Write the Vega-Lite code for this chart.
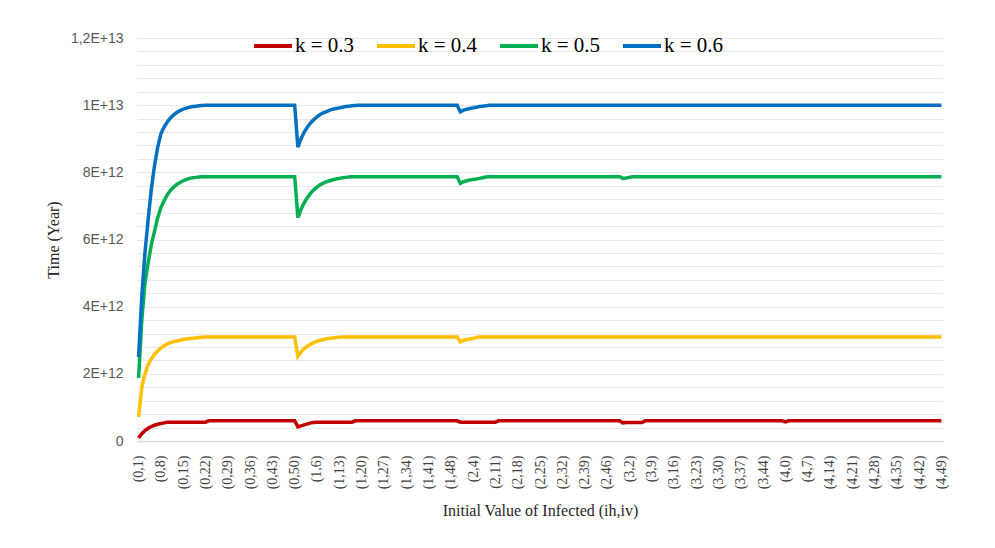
{
"$schema": "https://vega.github.io/schema/vega-lite/v6.json",
"width": 806, "height": 403,
"autosize": "none",
"padding": {"left": 137, "top": 38, "right": 52, "bottom": 107},
"background": "white",
"config": {"view": {"stroke": null}},
"data": {"values": [
{"x":"(0,1)","a":0.09e12,"b":0.72e12,"c":1.88e12,"d":2.5e12},
{"x":"(0,2)","a":0.22e12,"b":1.6e12,"c":3.6e12,"d":4.3e12},
{"x":"(0,3)","a":0.31e12,"b":2.0e12,"c":4.7e12,"d":5.6e12},
{"x":"(0,4)","a":0.38e12,"b":2.27e12,"c":5.3e12,"d":6.6e12},
{"x":"(0,5)","a":0.43e12,"b":2.45e12,"c":5.85e12,"d":7.5e12},
{"x":"(0,6)","a":0.47e12,"b":2.58e12,"c":6.25e12,"d":8.2e12},
{"x":"(0,7)","a":0.5e12,"b":2.68e12,"c":6.65e12,"d":8.75e12},
{"x":"(0,8)","a":0.52e12,"b":2.77e12,"c":6.95e12,"d":9.15e12},
{"x":"(0,9)","a":0.54e12,"b":2.84e12,"c":7.15e12,"d":9.35e12},
{"x":"(0,10)","a":0.56e12,"b":2.89e12,"c":7.33e12,"d":9.5e12},
{"x":"(0,11)","a":0.56e12,"b":2.93e12,"c":7.46e12,"d":9.62e12},
{"x":"(0,12)","a":0.56e12,"b":2.96e12,"c":7.56e12,"d":9.71e12},
{"x":"(0,13)","a":0.56e12,"b":2.98e12,"c":7.64e12,"d":9.78e12},
{"x":"(0,14)","a":0.56e12,"b":3.0e12,"c":7.7e12,"d":9.84e12},
{"x":"(0,15)","a":0.56e12,"b":3.02e12,"c":7.75e12,"d":9.88e12},
{"x":"(0,16)","a":0.56e12,"b":3.04e12,"c":7.79e12,"d":9.91e12},
{"x":"(0,17)","a":0.56e12,"b":3.05e12,"c":7.82e12,"d":9.94e12},
{"x":"(0,18)","a":0.56e12,"b":3.06e12,"c":7.84e12,"d":9.96e12},
{"x":"(0,19)","a":0.56e12,"b":3.07e12,"c":7.85e12,"d":9.97e12},
{"x":"(0,20)","a":0.56e12,"b":3.08e12,"c":7.86e12,"d":9.98e12},
{"x":"(0,21)","a":0.56e12,"b":3.09e12,"c":7.87e12,"d":9.99e12},
{"x":"(0,22)","a":0.56e12,"b":3.1e12,"c":7.87e12,"d":10e12},
{"x":"(0,23)","a":0.6e12,"b":3.1e12,"c":7.87e12,"d":10e12},
{"x":"(0,24)","a":0.6e12,"b":3.1e12,"c":7.87e12,"d":10e12},
{"x":"(0,25)","a":0.6e12,"b":3.1e12,"c":7.87e12,"d":10e12},
{"x":"(0,26)","a":0.6e12,"b":3.1e12,"c":7.87e12,"d":10e12},
{"x":"(0,27)","a":0.6e12,"b":3.1e12,"c":7.87e12,"d":10e12},
{"x":"(0,28)","a":0.6e12,"b":3.1e12,"c":7.87e12,"d":10e12},
{"x":"(0,29)","a":0.6e12,"b":3.1e12,"c":7.87e12,"d":10e12},
{"x":"(0,30)","a":0.6e12,"b":3.1e12,"c":7.87e12,"d":10e12},
{"x":"(0,31)","a":0.6e12,"b":3.1e12,"c":7.87e12,"d":10e12},
{"x":"(0,32)","a":0.6e12,"b":3.1e12,"c":7.87e12,"d":10e12},
{"x":"(0,33)","a":0.6e12,"b":3.1e12,"c":7.87e12,"d":10e12},
{"x":"(0,34)","a":0.6e12,"b":3.1e12,"c":7.87e12,"d":10e12},
{"x":"(0,35)","a":0.6e12,"b":3.1e12,"c":7.87e12,"d":10e12},
{"x":"(0,36)","a":0.6e12,"b":3.1e12,"c":7.87e12,"d":10e12},
{"x":"(0,37)","a":0.6e12,"b":3.1e12,"c":7.87e12,"d":10e12},
{"x":"(0,38)","a":0.6e12,"b":3.1e12,"c":7.87e12,"d":10e12},
{"x":"(0,39)","a":0.6e12,"b":3.1e12,"c":7.87e12,"d":10e12},
{"x":"(0,40)","a":0.6e12,"b":3.1e12,"c":7.87e12,"d":10e12},
{"x":"(0,41)","a":0.6e12,"b":3.1e12,"c":7.87e12,"d":10e12},
{"x":"(0,42)","a":0.6e12,"b":3.1e12,"c":7.87e12,"d":10e12},
{"x":"(0,43)","a":0.6e12,"b":3.1e12,"c":7.87e12,"d":10e12},
{"x":"(0,44)","a":0.6e12,"b":3.1e12,"c":7.87e12,"d":10e12},
{"x":"(0,45)","a":0.6e12,"b":3.1e12,"c":7.87e12,"d":10e12},
{"x":"(0,46)","a":0.6e12,"b":3.1e12,"c":7.87e12,"d":10e12},
{"x":"(0,47)","a":0.6e12,"b":3.1e12,"c":7.87e12,"d":10e12},
{"x":"(0,48)","a":0.6e12,"b":3.1e12,"c":7.87e12,"d":10e12},
{"x":"(0,49)","a":0.6e12,"b":3.1e12,"c":7.87e12,"d":10e12},
{"x":"(0,50)","a":0.6e12,"b":3.1e12,"c":7.87e12,"d":10e12},
{"x":"(1,0)","a":0.42e12,"b":2.52e12,"c":6.65e12,"d":8.75e12},
{"x":"(1,1)","a":0.45e12,"b":2.65e12,"c":6.9e12,"d":9.0e12},
{"x":"(1,2)","a":0.48e12,"b":2.75e12,"c":7.1e12,"d":9.2e12},
{"x":"(1,3)","a":0.51e12,"b":2.82e12,"c":7.25e12,"d":9.35e12},
{"x":"(1,4)","a":0.54e12,"b":2.88e12,"c":7.38e12,"d":9.47e12},
{"x":"(1,5)","a":0.55e12,"b":2.93e12,"c":7.48e12,"d":9.57e12},
{"x":"(1,6)","a":0.56e12,"b":2.97e12,"c":7.56e12,"d":9.65e12},
{"x":"(1,7)","a":0.56e12,"b":3.0e12,"c":7.63e12,"d":9.72e12},
{"x":"(1,8)","a":0.56e12,"b":3.02e12,"c":7.68e12,"d":9.77e12},
{"x":"(1,9)","a":0.56e12,"b":3.04e12,"c":7.72e12,"d":9.81e12},
{"x":"(1,10)","a":0.56e12,"b":3.06e12,"c":7.75e12,"d":9.85e12},
{"x":"(1,11)","a":0.56e12,"b":3.07e12,"c":7.78e12,"d":9.88e12},
{"x":"(1,12)","a":0.56e12,"b":3.08e12,"c":7.8e12,"d":9.9e12},
{"x":"(1,13)","a":0.56e12,"b":3.09e12,"c":7.82e12,"d":9.92e12},
{"x":"(1,14)","a":0.56e12,"b":3.1e12,"c":7.84e12,"d":9.94e12},
{"x":"(1,15)","a":0.56e12,"b":3.1e12,"c":7.85e12,"d":9.96e12},
{"x":"(1,16)","a":0.56e12,"b":3.1e12,"c":7.86e12,"d":9.97e12},
{"x":"(1,17)","a":0.56e12,"b":3.1e12,"c":7.87e12,"d":9.98e12},
{"x":"(1,18)","a":0.6e12,"b":3.1e12,"c":7.87e12,"d":9.99e12},
{"x":"(1,19)","a":0.6e12,"b":3.1e12,"c":7.87e12,"d":10e12},
{"x":"(1,20)","a":0.6e12,"b":3.1e12,"c":7.87e12,"d":10e12},
{"x":"(1,21)","a":0.6e12,"b":3.1e12,"c":7.87e12,"d":10e12},
{"x":"(1,22)","a":0.6e12,"b":3.1e12,"c":7.87e12,"d":10e12},
{"x":"(1,23)","a":0.6e12,"b":3.1e12,"c":7.87e12,"d":10e12},
{"x":"(1,24)","a":0.6e12,"b":3.1e12,"c":7.87e12,"d":10e12},
{"x":"(1,25)","a":0.6e12,"b":3.1e12,"c":7.87e12,"d":10e12},
{"x":"(1,26)","a":0.6e12,"b":3.1e12,"c":7.87e12,"d":10e12},
{"x":"(1,27)","a":0.6e12,"b":3.1e12,"c":7.87e12,"d":10e12},
{"x":"(1,28)","a":0.6e12,"b":3.1e12,"c":7.87e12,"d":10e12},
{"x":"(1,29)","a":0.6e12,"b":3.1e12,"c":7.87e12,"d":10e12},
{"x":"(1,30)","a":0.6e12,"b":3.1e12,"c":7.87e12,"d":10e12},
{"x":"(1,31)","a":0.6e12,"b":3.1e12,"c":7.87e12,"d":10e12},
{"x":"(1,32)","a":0.6e12,"b":3.1e12,"c":7.87e12,"d":10e12},
{"x":"(1,33)","a":0.6e12,"b":3.1e12,"c":7.87e12,"d":10e12},
{"x":"(1,34)","a":0.6e12,"b":3.1e12,"c":7.87e12,"d":10e12},
{"x":"(1,35)","a":0.6e12,"b":3.1e12,"c":7.87e12,"d":10e12},
{"x":"(1,36)","a":0.6e12,"b":3.1e12,"c":7.87e12,"d":10e12},
{"x":"(1,37)","a":0.6e12,"b":3.1e12,"c":7.87e12,"d":10e12},
{"x":"(1,38)","a":0.6e12,"b":3.1e12,"c":7.87e12,"d":10e12},
{"x":"(1,39)","a":0.6e12,"b":3.1e12,"c":7.87e12,"d":10e12},
{"x":"(1,40)","a":0.6e12,"b":3.1e12,"c":7.87e12,"d":10e12},
{"x":"(1,41)","a":0.6e12,"b":3.1e12,"c":7.87e12,"d":10e12},
{"x":"(1,42)","a":0.6e12,"b":3.1e12,"c":7.87e12,"d":10e12},
{"x":"(1,43)","a":0.6e12,"b":3.1e12,"c":7.87e12,"d":10e12},
{"x":"(1,44)","a":0.6e12,"b":3.1e12,"c":7.87e12,"d":10e12},
{"x":"(1,45)","a":0.6e12,"b":3.1e12,"c":7.87e12,"d":10e12},
{"x":"(1,46)","a":0.6e12,"b":3.1e12,"c":7.87e12,"d":10e12},
{"x":"(1,47)","a":0.6e12,"b":3.1e12,"c":7.87e12,"d":10e12},
{"x":"(1,48)","a":0.6e12,"b":3.1e12,"c":7.87e12,"d":10e12},
{"x":"(1,49)","a":0.6e12,"b":3.1e12,"c":7.87e12,"d":10e12},
{"x":"(1,50)","a":0.6e12,"b":3.1e12,"c":7.87e12,"d":10e12},
{"x":"(2,0)","a":0.56e12,"b":2.95e12,"c":7.67e12,"d":9.8e12},
{"x":"(2,1)","a":0.56e12,"b":3.0e12,"c":7.72e12,"d":9.85e12},
{"x":"(2,2)","a":0.56e12,"b":3.02e12,"c":7.75e12,"d":9.88e12},
{"x":"(2,3)","a":0.56e12,"b":3.04e12,"c":7.77e12,"d":9.9e12},
{"x":"(2,4)","a":0.56e12,"b":3.05e12,"c":7.79e12,"d":9.92e12},
{"x":"(2,5)","a":0.56e12,"b":3.08e12,"c":7.8e12,"d":9.94e12},
{"x":"(2,6)","a":0.56e12,"b":3.1e12,"c":7.82e12,"d":9.96e12},
{"x":"(2,7)","a":0.56e12,"b":3.1e12,"c":7.84e12,"d":9.97e12},
{"x":"(2,8)","a":0.56e12,"b":3.1e12,"c":7.86e12,"d":9.98e12},
{"x":"(2,9)","a":0.56e12,"b":3.1e12,"c":7.87e12,"d":10e12},
{"x":"(2,10)","a":0.56e12,"b":3.1e12,"c":7.87e12,"d":10e12},
{"x":"(2,11)","a":0.56e12,"b":3.1e12,"c":7.87e12,"d":10e12},
{"x":"(2,12)","a":0.6e12,"b":3.1e12,"c":7.87e12,"d":10e12},
{"x":"(2,13)","a":0.6e12,"b":3.1e12,"c":7.87e12,"d":10e12},
{"x":"(2,14)","a":0.6e12,"b":3.1e12,"c":7.87e12,"d":10e12},
{"x":"(2,15)","a":0.6e12,"b":3.1e12,"c":7.87e12,"d":10e12},
{"x":"(2,16)","a":0.6e12,"b":3.1e12,"c":7.87e12,"d":10e12},
{"x":"(2,17)","a":0.6e12,"b":3.1e12,"c":7.87e12,"d":10e12},
{"x":"(2,18)","a":0.6e12,"b":3.1e12,"c":7.87e12,"d":10e12},
{"x":"(2,19)","a":0.6e12,"b":3.1e12,"c":7.87e12,"d":10e12},
{"x":"(2,20)","a":0.6e12,"b":3.1e12,"c":7.87e12,"d":10e12},
{"x":"(2,21)","a":0.6e12,"b":3.1e12,"c":7.87e12,"d":10e12},
{"x":"(2,22)","a":0.6e12,"b":3.1e12,"c":7.87e12,"d":10e12},
{"x":"(2,23)","a":0.6e12,"b":3.1e12,"c":7.87e12,"d":10e12},
{"x":"(2,24)","a":0.6e12,"b":3.1e12,"c":7.87e12,"d":10e12},
{"x":"(2,25)","a":0.6e12,"b":3.1e12,"c":7.87e12,"d":10e12},
{"x":"(2,26)","a":0.6e12,"b":3.1e12,"c":7.87e12,"d":10e12},
{"x":"(2,27)","a":0.6e12,"b":3.1e12,"c":7.87e12,"d":10e12},
{"x":"(2,28)","a":0.6e12,"b":3.1e12,"c":7.87e12,"d":10e12},
{"x":"(2,29)","a":0.6e12,"b":3.1e12,"c":7.87e12,"d":10e12},
{"x":"(2,30)","a":0.6e12,"b":3.1e12,"c":7.87e12,"d":10e12},
{"x":"(2,31)","a":0.6e12,"b":3.1e12,"c":7.87e12,"d":10e12},
{"x":"(2,32)","a":0.6e12,"b":3.1e12,"c":7.87e12,"d":10e12},
{"x":"(2,33)","a":0.6e12,"b":3.1e12,"c":7.87e12,"d":10e12},
{"x":"(2,34)","a":0.6e12,"b":3.1e12,"c":7.87e12,"d":10e12},
{"x":"(2,35)","a":0.6e12,"b":3.1e12,"c":7.87e12,"d":10e12},
{"x":"(2,36)","a":0.6e12,"b":3.1e12,"c":7.87e12,"d":10e12},
{"x":"(2,37)","a":0.6e12,"b":3.1e12,"c":7.87e12,"d":10e12},
{"x":"(2,38)","a":0.6e12,"b":3.1e12,"c":7.87e12,"d":10e12},
{"x":"(2,39)","a":0.6e12,"b":3.1e12,"c":7.87e12,"d":10e12},
{"x":"(2,40)","a":0.6e12,"b":3.1e12,"c":7.87e12,"d":10e12},
{"x":"(2,41)","a":0.6e12,"b":3.1e12,"c":7.87e12,"d":10e12},
{"x":"(2,42)","a":0.6e12,"b":3.1e12,"c":7.87e12,"d":10e12},
{"x":"(2,43)","a":0.6e12,"b":3.1e12,"c":7.87e12,"d":10e12},
{"x":"(2,44)","a":0.6e12,"b":3.1e12,"c":7.87e12,"d":10e12},
{"x":"(2,45)","a":0.6e12,"b":3.1e12,"c":7.87e12,"d":10e12},
{"x":"(2,46)","a":0.6e12,"b":3.1e12,"c":7.87e12,"d":10e12},
{"x":"(2,47)","a":0.6e12,"b":3.1e12,"c":7.87e12,"d":10e12},
{"x":"(2,48)","a":0.6e12,"b":3.1e12,"c":7.87e12,"d":10e12},
{"x":"(2,49)","a":0.6e12,"b":3.1e12,"c":7.87e12,"d":10e12},
{"x":"(2,50)","a":0.6e12,"b":3.1e12,"c":7.87e12,"d":10e12},
{"x":"(3,0)","a":0.54e12,"b":3.1e12,"c":7.82e12,"d":10e12},
{"x":"(3,1)","a":0.55e12,"b":3.1e12,"c":7.83e12,"d":10e12},
{"x":"(3,2)","a":0.55e12,"b":3.1e12,"c":7.85e12,"d":10e12},
{"x":"(3,3)","a":0.55e12,"b":3.1e12,"c":7.87e12,"d":10e12},
{"x":"(3,4)","a":0.55e12,"b":3.1e12,"c":7.87e12,"d":10e12},
{"x":"(3,5)","a":0.55e12,"b":3.1e12,"c":7.87e12,"d":10e12},
{"x":"(3,6)","a":0.55e12,"b":3.1e12,"c":7.87e12,"d":10e12},
{"x":"(3,7)","a":0.6e12,"b":3.1e12,"c":7.87e12,"d":10e12},
{"x":"(3,8)","a":0.6e12,"b":3.1e12,"c":7.87e12,"d":10e12},
{"x":"(3,9)","a":0.6e12,"b":3.1e12,"c":7.87e12,"d":10e12},
{"x":"(3,10)","a":0.6e12,"b":3.1e12,"c":7.87e12,"d":10e12},
{"x":"(3,11)","a":0.6e12,"b":3.1e12,"c":7.87e12,"d":10e12},
{"x":"(3,12)","a":0.6e12,"b":3.1e12,"c":7.87e12,"d":10e12},
{"x":"(3,13)","a":0.6e12,"b":3.1e12,"c":7.87e12,"d":10e12},
{"x":"(3,14)","a":0.6e12,"b":3.1e12,"c":7.87e12,"d":10e12},
{"x":"(3,15)","a":0.6e12,"b":3.1e12,"c":7.87e12,"d":10e12},
{"x":"(3,16)","a":0.6e12,"b":3.1e12,"c":7.87e12,"d":10e12},
{"x":"(3,17)","a":0.6e12,"b":3.1e12,"c":7.87e12,"d":10e12},
{"x":"(3,18)","a":0.6e12,"b":3.1e12,"c":7.87e12,"d":10e12},
{"x":"(3,19)","a":0.6e12,"b":3.1e12,"c":7.87e12,"d":10e12},
{"x":"(3,20)","a":0.6e12,"b":3.1e12,"c":7.87e12,"d":10e12},
{"x":"(3,21)","a":0.6e12,"b":3.1e12,"c":7.87e12,"d":10e12},
{"x":"(3,22)","a":0.6e12,"b":3.1e12,"c":7.87e12,"d":10e12},
{"x":"(3,23)","a":0.6e12,"b":3.1e12,"c":7.87e12,"d":10e12},
{"x":"(3,24)","a":0.6e12,"b":3.1e12,"c":7.87e12,"d":10e12},
{"x":"(3,25)","a":0.6e12,"b":3.1e12,"c":7.87e12,"d":10e12},
{"x":"(3,26)","a":0.6e12,"b":3.1e12,"c":7.87e12,"d":10e12},
{"x":"(3,27)","a":0.6e12,"b":3.1e12,"c":7.87e12,"d":10e12},
{"x":"(3,28)","a":0.6e12,"b":3.1e12,"c":7.87e12,"d":10e12},
{"x":"(3,29)","a":0.6e12,"b":3.1e12,"c":7.87e12,"d":10e12},
{"x":"(3,30)","a":0.6e12,"b":3.1e12,"c":7.87e12,"d":10e12},
{"x":"(3,31)","a":0.6e12,"b":3.1e12,"c":7.87e12,"d":10e12},
{"x":"(3,32)","a":0.6e12,"b":3.1e12,"c":7.87e12,"d":10e12},
{"x":"(3,33)","a":0.6e12,"b":3.1e12,"c":7.87e12,"d":10e12},
{"x":"(3,34)","a":0.6e12,"b":3.1e12,"c":7.87e12,"d":10e12},
{"x":"(3,35)","a":0.6e12,"b":3.1e12,"c":7.87e12,"d":10e12},
{"x":"(3,36)","a":0.6e12,"b":3.1e12,"c":7.87e12,"d":10e12},
{"x":"(3,37)","a":0.6e12,"b":3.1e12,"c":7.87e12,"d":10e12},
{"x":"(3,38)","a":0.6e12,"b":3.1e12,"c":7.87e12,"d":10e12},
{"x":"(3,39)","a":0.6e12,"b":3.1e12,"c":7.87e12,"d":10e12},
{"x":"(3,40)","a":0.6e12,"b":3.1e12,"c":7.87e12,"d":10e12},
{"x":"(3,41)","a":0.6e12,"b":3.1e12,"c":7.87e12,"d":10e12},
{"x":"(3,42)","a":0.6e12,"b":3.1e12,"c":7.87e12,"d":10e12},
{"x":"(3,43)","a":0.6e12,"b":3.1e12,"c":7.87e12,"d":10e12},
{"x":"(3,44)","a":0.6e12,"b":3.1e12,"c":7.87e12,"d":10e12},
{"x":"(3,45)","a":0.6e12,"b":3.1e12,"c":7.87e12,"d":10e12},
{"x":"(3,46)","a":0.6e12,"b":3.1e12,"c":7.87e12,"d":10e12},
{"x":"(3,47)","a":0.6e12,"b":3.1e12,"c":7.87e12,"d":10e12},
{"x":"(3,48)","a":0.6e12,"b":3.1e12,"c":7.87e12,"d":10e12},
{"x":"(3,49)","a":0.6e12,"b":3.1e12,"c":7.87e12,"d":10e12},
{"x":"(3,50)","a":0.6e12,"b":3.1e12,"c":7.87e12,"d":10e12},
{"x":"(4,0)","a":0.57e12,"b":3.1e12,"c":7.87e12,"d":10e12},
{"x":"(4,1)","a":0.6e12,"b":3.1e12,"c":7.87e12,"d":10e12},
{"x":"(4,2)","a":0.6e12,"b":3.1e12,"c":7.87e12,"d":10e12},
{"x":"(4,3)","a":0.6e12,"b":3.1e12,"c":7.87e12,"d":10e12},
{"x":"(4,4)","a":0.6e12,"b":3.1e12,"c":7.87e12,"d":10e12},
{"x":"(4,5)","a":0.6e12,"b":3.1e12,"c":7.87e12,"d":10e12},
{"x":"(4,6)","a":0.6e12,"b":3.1e12,"c":7.87e12,"d":10e12},
{"x":"(4,7)","a":0.6e12,"b":3.1e12,"c":7.87e12,"d":10e12},
{"x":"(4,8)","a":0.6e12,"b":3.1e12,"c":7.87e12,"d":10e12},
{"x":"(4,9)","a":0.6e12,"b":3.1e12,"c":7.87e12,"d":10e12},
{"x":"(4,10)","a":0.6e12,"b":3.1e12,"c":7.87e12,"d":10e12},
{"x":"(4,11)","a":0.6e12,"b":3.1e12,"c":7.87e12,"d":10e12},
{"x":"(4,12)","a":0.6e12,"b":3.1e12,"c":7.87e12,"d":10e12},
{"x":"(4,13)","a":0.6e12,"b":3.1e12,"c":7.87e12,"d":10e12},
{"x":"(4,14)","a":0.6e12,"b":3.1e12,"c":7.87e12,"d":10e12},
{"x":"(4,15)","a":0.6e12,"b":3.1e12,"c":7.87e12,"d":10e12},
{"x":"(4,16)","a":0.6e12,"b":3.1e12,"c":7.87e12,"d":10e12},
{"x":"(4,17)","a":0.6e12,"b":3.1e12,"c":7.87e12,"d":10e12},
{"x":"(4,18)","a":0.6e12,"b":3.1e12,"c":7.87e12,"d":10e12},
{"x":"(4,19)","a":0.6e12,"b":3.1e12,"c":7.87e12,"d":10e12},
{"x":"(4,20)","a":0.6e12,"b":3.1e12,"c":7.87e12,"d":10e12},
{"x":"(4,21)","a":0.6e12,"b":3.1e12,"c":7.87e12,"d":10e12},
{"x":"(4,22)","a":0.6e12,"b":3.1e12,"c":7.87e12,"d":10e12},
{"x":"(4,23)","a":0.6e12,"b":3.1e12,"c":7.87e12,"d":10e12},
{"x":"(4,24)","a":0.6e12,"b":3.1e12,"c":7.87e12,"d":10e12},
{"x":"(4,25)","a":0.6e12,"b":3.1e12,"c":7.87e12,"d":10e12},
{"x":"(4,26)","a":0.6e12,"b":3.1e12,"c":7.87e12,"d":10e12},
{"x":"(4,27)","a":0.6e12,"b":3.1e12,"c":7.87e12,"d":10e12},
{"x":"(4,28)","a":0.6e12,"b":3.1e12,"c":7.87e12,"d":10e12},
{"x":"(4,29)","a":0.6e12,"b":3.1e12,"c":7.87e12,"d":10e12},
{"x":"(4,30)","a":0.6e12,"b":3.1e12,"c":7.87e12,"d":10e12},
{"x":"(4,31)","a":0.6e12,"b":3.1e12,"c":7.87e12,"d":10e12},
{"x":"(4,32)","a":0.6e12,"b":3.1e12,"c":7.87e12,"d":10e12},
{"x":"(4,33)","a":0.6e12,"b":3.1e12,"c":7.87e12,"d":10e12},
{"x":"(4,34)","a":0.6e12,"b":3.1e12,"c":7.87e12,"d":10e12},
{"x":"(4,35)","a":0.6e12,"b":3.1e12,"c":7.87e12,"d":10e12},
{"x":"(4,36)","a":0.6e12,"b":3.1e12,"c":7.87e12,"d":10e12},
{"x":"(4,37)","a":0.6e12,"b":3.1e12,"c":7.87e12,"d":10e12},
{"x":"(4,38)","a":0.6e12,"b":3.1e12,"c":7.87e12,"d":10e12},
{"x":"(4,39)","a":0.6e12,"b":3.1e12,"c":7.87e12,"d":10e12},
{"x":"(4,40)","a":0.6e12,"b":3.1e12,"c":7.87e12,"d":10e12},
{"x":"(4,41)","a":0.6e12,"b":3.1e12,"c":7.87e12,"d":10e12},
{"x":"(4,42)","a":0.6e12,"b":3.1e12,"c":7.87e12,"d":10e12},
{"x":"(4,43)","a":0.6e12,"b":3.1e12,"c":7.87e12,"d":10e12},
{"x":"(4,44)","a":0.6e12,"b":3.1e12,"c":7.87e12,"d":10e12},
{"x":"(4,45)","a":0.6e12,"b":3.1e12,"c":7.87e12,"d":10e12},
{"x":"(4,46)","a":0.6e12,"b":3.1e12,"c":7.87e12,"d":10e12},
{"x":"(4,47)","a":0.6e12,"b":3.1e12,"c":7.87e12,"d":10e12},
{"x":"(4,48)","a":0.6e12,"b":3.1e12,"c":7.87e12,"d":10e12},
{"x":"(4,49)","a":0.6e12,"b":3.1e12,"c":7.87e12,"d":10e12}
]},
"transform": [{"fold": ["a", "b", "c", "d"], "as": ["s", "v"]}],
"mark": {"type": "line", "strokeWidth": 3.5},
"encoding": {
  "x": {"field": "x", "type": "ordinal", "sort": null,
    "scale": {"type": "point", "padding": 0.5},
    "axis": {"values": ["(0,1)","(0,8)","(0,15)","(0,22)","(0,29)","(0,36)","(0,43)","(0,50)","(1,6)","(1,13)","(1,20)","(1,27)","(1,34)","(1,41)","(1,48)","(2,4)","(2,11)","(2,18)","(2,25)","(2,32)","(2,39)","(2,46)","(3,2)","(3,9)","(3,16)","(3,23)","(3,30)","(3,37)","(3,44)","(4,0)","(4,7)","(4,14)","(4,21)","(4,28)","(4,35)","(4,42)","(4,49)"],
      "labelAngle": -90, "labelFont": "Liberation Serif", "labelFontSize": 14, "labelColor": "#404040",
      "labelPadding": 14, "labelOverlap": false, "labelBound": false, "ticks": false, "grid": false,
      "domainColor": "#d9d9d9", "domainWidth": 1.5,
      "title": "Initial Value of Infected (ih,iv)", "titleFont": "Liberation Serif", "titleFontSize": 16,
      "titleFontWeight": "normal", "titleColor": "#262626", "titleY": 69, "titleBaseline": "middle"}},
  "y": {"field": "v", "type": "quantitative",
    "scale": {"domain": [0, 12000000000000], "nice": false},
    "axis": {"values": [0,400000000000,800000000000,1200000000000,1600000000000,2000000000000,2400000000000,2800000000000,3200000000000,3600000000000,4000000000000,4400000000000,4800000000000,5200000000000,5600000000000,6000000000000,6400000000000,6800000000000,7200000000000,7600000000000,8000000000000,8400000000000,8800000000000,9200000000000,9600000000000,10000000000000,10400000000000,10800000000000,11200000000000,11600000000000,12000000000000],
      "labelExpr": "datum.value == 0 ? '0' : datum.value == 12000000000000 ? '1,2E+13' : datum.value == 10000000000000 ? '1E+13' : datum.value % 2000000000000 == 0 ? (datum.value / 1000000000000) + 'E+12' : ''",
      "grid": true, "gridColor": "#e8e8e8", "domain": false, "ticks": false,
      "labelFont": "Liberation Sans", "labelFontSize": 14, "labelColor": "#595959", "labelPadding": 14,
      "title": "Time (Year)", "titleFont": "Liberation Serif", "titleFontSize": 16, "titleFontWeight": "normal",
      "titleColor": "#262626", "titleX": -84, "titleY": 201.5, "titleAngle": -90, "titleBaseline": "middle", "titleAlign": "center"}},
  "color": {"field": "s", "type": "nominal",
    "scale": {"domain": ["a", "b", "c", "d"], "range": ["#C00000", "#FFC000", "#00B050", "#0070C0"]},
    "legend": {"orient": "none", "legendX": 115, "legendY": -13, "direction": "horizontal", "title": null,
      "symbolType": "stroke", "symbolSize": 1444, "symbolStrokeWidth": 4,
      "labelFont": "Liberation Serif", "labelFontSize": 21, "labelColor": "#000000", "labelOffset": 1, "labelLimit": 200,
      "columnPadding": 14,
      "labelExpr": "datum.label == 'a' ? 'k = 0.3' : datum.label == 'b' ? 'k = 0.4' : datum.label == 'c' ? 'k = 0.5' : 'k = 0.6'"}}
}
}
